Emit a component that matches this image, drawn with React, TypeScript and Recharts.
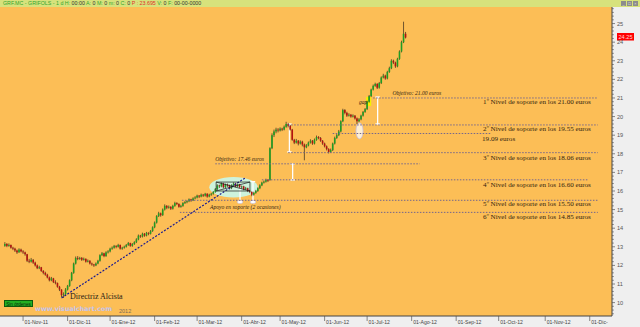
import { ComposedChart, Bar, XAxis, YAxis, CartesianGrid, ReferenceLine, ReferenceArea, ReferenceDot } from 'recharts'

// daily candles for GRIFOLS, one array per month: [open, high, low, close]
const oct11 = [
  [13.05, 13.25, 13.0, 13.15], [13.15, 13.2, 12.98, 13.05], [13.05, 13.18, 13.0, 13.1],
  [13.1, 13.12, 12.9, 12.95], [12.95, 13.0, 12.82, 12.9], [12.9, 12.95, 12.72, 12.8],
  [12.8, 12.85, 12.62, 12.7], [12.7, 12.92, 12.68, 12.85], [12.85, 12.9, 12.7, 12.75],
]
const nov11 = [
  [12.75, 12.82, 12.62, 12.7], [12.7, 12.74, 12.52, 12.6], [12.6, 12.62, 12.18, 12.25],
  [12.25, 12.35, 12.12, 12.2], [12.2, 12.4, 12.15, 12.3], [12.3, 12.34, 12.08, 12.15],
  [12.15, 12.2, 11.94, 12.0], [12.0, 12.05, 11.8, 11.85], [11.85, 11.98, 11.8, 11.9],
  [11.9, 11.92, 11.65, 11.7], [11.7, 11.75, 11.52, 11.6], [11.6, 11.66, 11.44, 11.5],
  [11.5, 11.55, 11.3, 11.35], [11.35, 11.4, 11.14, 11.2], [11.2, 11.38, 11.15, 11.3],
  [11.3, 11.33, 11.05, 11.1], [11.1, 11.2, 10.98, 11.05], [11.05, 11.08, 10.8, 10.85],
  [10.85, 10.9, 10.62, 10.7], [10.7, 10.72, 10.3, 10.4], [10.4, 10.55, 10.25, 10.45],
  [10.45, 10.78, 10.4, 10.7],
]
const dec11 = [
  [10.7, 10.95, 10.65, 10.9], [10.9, 11.25, 10.85, 11.2], [11.2, 11.65, 11.15, 11.6],
  [11.6, 12.15, 11.55, 12.1], [12.1, 12.48, 12.05, 12.4], [12.4, 12.5, 12.28, 12.35],
  [12.35, 12.46, 12.3, 12.4], [12.4, 12.45, 12.24, 12.3], [12.3, 12.42, 12.26, 12.35],
  [12.35, 12.38, 12.15, 12.2], [12.2, 12.32, 12.16, 12.25], [12.25, 12.28, 12.05, 12.1],
  [12.1, 12.15, 11.98, 12.05], [12.05, 12.08, 11.92, 12.0], [12.0, 12.16, 11.96, 12.1],
  [12.1, 12.3, 12.06, 12.25], [12.25, 12.6, 12.2, 12.55], [12.55, 12.72, 12.5, 12.65],
  [12.65, 12.68, 12.44, 12.5], [12.5, 12.76, 12.46, 12.7], [12.7, 12.82, 12.64, 12.75],
]
const jan12 = [
  [12.75, 12.95, 12.7, 12.9], [12.9, 13.02, 12.84, 12.95], [12.95, 13.1, 12.9, 13.05],
  [13.05, 13.08, 12.92, 13.0], [13.0, 13.16, 12.96, 13.1], [13.1, 13.12, 12.85, 12.9],
  [12.9, 13.0, 12.84, 12.95], [12.95, 13.06, 12.9, 13.0], [13.0, 13.15, 12.96, 13.1],
  [13.1, 13.26, 13.05, 13.2], [13.2, 13.22, 13.0, 13.05], [13.05, 13.2, 13.0, 13.15],
  [13.15, 13.3, 13.1, 13.25], [13.25, 13.46, 13.2, 13.4], [13.4, 13.66, 13.35, 13.6],
  [13.6, 13.64, 13.48, 13.55], [13.55, 13.76, 13.5, 13.7], [13.7, 13.74, 13.54, 13.6],
  [13.6, 13.8, 13.56, 13.75], [13.75, 13.78, 13.62, 13.7], [13.7, 13.9, 13.66, 13.85],
  [13.85, 14.1, 13.8, 14.05],
]
const feb12 = [
  [14.05, 14.36, 14.0, 14.3], [14.3, 14.7, 14.25, 14.65], [14.65, 14.88, 14.6, 14.8],
  [14.8, 14.84, 14.62, 14.7], [14.7, 15.06, 14.66, 15.0], [15.0, 15.28, 14.95, 15.2],
  [15.2, 15.24, 15.02, 15.1], [15.1, 15.22, 15.05, 15.15], [15.15, 15.18, 14.98, 15.05],
  [15.05, 15.26, 15.0, 15.2], [15.2, 15.42, 15.15, 15.35], [15.35, 15.4, 15.24, 15.3],
  [15.3, 15.34, 15.1, 15.15], [15.15, 15.26, 15.1, 15.2], [15.2, 15.4, 15.15, 15.35],
  [15.35, 15.46, 15.3, 15.4], [15.4, 15.5, 15.34, 15.45], [15.45, 15.6, 15.4, 15.55],
  [15.55, 15.58, 15.42, 15.5], [15.5, 15.66, 15.46, 15.6], [15.6, 15.72, 15.55, 15.65],
]
const mar12 = [
  [15.65, 15.8, 15.6, 15.75], [15.75, 15.78, 15.62, 15.7], [15.7, 15.86, 15.66, 15.8],
  [15.8, 15.84, 15.68, 15.75], [15.75, 15.9, 15.7, 15.85], [15.85, 15.88, 15.64, 15.7],
  [15.7, 15.85, 15.66, 15.8], [15.8, 15.9, 15.74, 15.85], [15.85, 16.0, 15.8, 15.95],
  [15.95, 16.16, 15.9, 16.1], [16.1, 16.36, 16.05, 16.3], [16.3, 16.34, 16.16, 16.25],
  [16.25, 16.46, 16.2, 16.4], [16.4, 16.44, 16.14, 16.2], [16.2, 16.4, 16.16, 16.35],
  [16.35, 16.4, 16.22, 16.3], [16.3, 16.34, 16.08, 16.15], [16.15, 16.36, 16.1, 16.3],
  [16.3, 16.46, 16.26, 16.4], [16.4, 16.44, 16.2, 16.25], [16.25, 16.4, 16.2, 16.35],
  [16.35, 16.38, 16.14, 16.2],
]
const apr12 = [
  [16.2, 16.3, 16.12, 16.25], [16.25, 16.28, 16.04, 16.1], [16.1, 16.22, 16.05, 16.15],
  [16.15, 16.18, 15.94, 16.0], [16.0, 16.06, 15.88, 15.95], [15.95, 15.98, 15.72, 15.8],
  [15.8, 15.96, 15.75, 15.9], [15.9, 16.06, 15.85, 16.0], [16.0, 16.2, 15.95, 16.15],
  [16.15, 16.36, 16.1, 16.3], [16.3, 16.5, 16.26, 16.45], [16.45, 16.56, 16.4, 16.5],
  [16.5, 16.66, 16.45, 16.6], [16.6, 16.64, 16.48, 16.55], [16.6, 18.35, 16.55, 18.3],
  [18.3, 19.1, 18.25, 19.0], [19.0, 19.3, 18.9, 19.2], [19.2, 19.4, 19.1, 19.3],
  [19.3, 19.38, 19.15, 19.25],
]
const may12 = [
  [19.25, 19.42, 19.2, 19.35], [19.35, 19.4, 19.22, 19.3], [19.3, 19.52, 19.26, 19.45],
  [19.45, 19.72, 19.4, 19.6], [19.6, 19.66, 19.42, 19.5], [19.5, 19.55, 19.25, 19.3],
  [19.3, 19.34, 18.7, 18.75], [18.75, 18.8, 18.52, 18.6], [18.6, 18.8, 18.55, 18.7],
  [18.7, 18.74, 18.45, 18.55], [18.55, 18.72, 18.5, 18.65], [18.65, 18.7, 18.4, 18.5],
  [18.5, 18.55, 17.65, 18.35], [18.35, 18.52, 18.3, 18.45], [18.45, 18.66, 18.4, 18.6],
  [18.6, 18.78, 18.55, 18.7], [18.7, 18.74, 18.48, 18.55], [18.55, 18.82, 18.5, 18.75],
  [18.75, 18.98, 18.7, 18.9], [18.9, 18.95, 18.78, 18.85], [18.85, 18.9, 18.64, 18.7],
  [18.7, 18.74, 18.48, 18.55],
]
const jun12 = [
  [18.55, 18.6, 18.34, 18.4], [18.4, 18.45, 18.18, 18.25], [18.25, 18.3, 18.02, 18.1],
  [18.1, 18.28, 18.05, 18.2], [18.2, 18.6, 18.15, 18.55], [18.55, 18.92, 18.5, 18.85],
  [18.85, 19.06, 18.8, 19.0], [19.0, 19.28, 18.95, 19.2], [19.2, 19.8, 19.15, 19.75],
  [19.75, 20.42, 19.7, 20.35], [20.35, 20.4, 20.12, 20.2], [20.2, 20.26, 19.98, 20.05],
  [20.05, 20.18, 20.0, 20.1], [20.1, 20.14, 19.94, 20.0], [20.0, 20.12, 19.95, 20.05],
  [20.05, 20.08, 19.84, 19.9], [19.9, 19.95, 19.6, 19.75], [19.75, 19.92, 19.7, 19.85],
  [19.85, 20.1, 19.8, 20.05], [20.05, 20.3, 20.0, 20.25], [20.25, 20.46, 20.2, 20.4],
]
const jul12 = [
  [20.4, 20.85, 20.35, 20.8], [20.8, 21.16, 20.75, 21.1], [21.1, 21.5, 21.05, 21.45],
  [21.45, 21.72, 21.4, 21.65], [21.65, 21.82, 21.6, 21.75], [21.75, 21.8, 21.48, 21.55],
  [21.55, 21.86, 21.5, 21.8], [21.8, 22.16, 21.75, 22.1], [22.1, 22.3, 22.05, 22.2],
  [22.2, 22.25, 21.98, 22.05], [22.05, 22.46, 22.0, 22.4], [22.4, 22.68, 22.35, 22.6],
  [22.6, 23.08, 22.55, 23.0], [23.0, 23.06, 22.82, 22.9], [22.9, 22.95, 22.62, 22.7],
  [22.7, 23.16, 22.65, 23.1], [23.1, 23.56, 23.05, 23.5], [23.5, 24.08, 23.45, 24.0],
  [24.0, 25.1, 23.95, 24.45], [24.45, 24.55, 24.2, 24.25],
]

// x axis: one slot per trading day, ticks on the first session of each month
const monthTickSlots = [9, 31, 52, 74, 95, 117, 136, 158, 179, 201, 223, 244, 267, 289]
const monthTickLabels = ['01-Nov-11', '01-Dic-11', '01-Ene-12', '01-Feb-12', '01-Mar-12', '01-Abr-12', '01-May-12',
  '01-Jun-12', '01-Jul-12', '01-Ago-12', '01-Sep-12', '01-Oct-12', '01-Nov-12', '01-Dic-']
const priceTicks = [10, 11, 12, 13, 14, 15, 16, 17, 18, 19, 20, 21, 22, 23, 24, 25]
const lastPrice = 24.25

// dotted support levels (slot range)
const supportLines = [
  { price: 21.0, from: 182, to: 293 },
  { price: 19.55, from: 140, to: 293 },
  { price: 19.09, from: 162, to: 240 },
  { price: 18.06, from: 140, to: 293 },
  { price: 17.46, from: 104, to: 205 },
  { price: 16.6, from: 127, to: 288 },
  { price: 15.5, from: 87.5, to: 293 },
  { price: 14.85, from: 86.5, to: 293 },
]

const levelTexts = [
  { slot: 236.3, price: 20.68, text: '1º Nivel de soporte en los 21.00 euros' },
  { slot: 236.3, price: 19.23, text: '2º Nivel de soporte en los 19.55 euros' },
  { slot: 235.8, price: 18.69, text: '19.09 euros' },
  { slot: 236.3, price: 17.67, text: '3º Nivel de soporte en los 18.06 euros' },
  { slot: 236.3, price: 16.22, text: '4º Nivel de soporte en los 16.60 euros' },
  { slot: 236.3, price: 15.17, text: '5º Nivel de soporte en los 15.50 euros' },
  { slot: 236.3, price: 14.49, text: '6º Nivel de soporte en los 14.85 euros' },
]

const smallNotes = [
  { slot: 191.5, price: 21.16, text: 'Objetivo: 21.00 euros' },
  { slot: 103.9, price: 17.61, text: 'Objetivo: 17.46 euros' },
  { slot: 101.4, price: 15.03, text: 'Apoyo en soporte (2 ocasiones)' },
  { slot: 175.0, price: 20.68, text: 'gap' },
]

const trendLine = { from: [28, 10.25], to: [118.7, 16.7] }

// white range markers between levels
const rangeMarkers = [
  { slot: 116.2, top: 16.27, bottom: 15.41, foot: true },
  { slot: 122.6, top: 16.5, bottom: 15.41, foot: true },
  { slot: 142.2, top: 17.45, bottom: 16.59, foot: false },
  { slot: 140.6, top: 19.6, bottom: 18.1, foot: false },
  { slot: 184.2, top: 21.05, bottom: 19.6, foot: false },
]

const candles = [oct11, nov11, dec11, jan12, feb12, mar12, apr12, may12, jun12, jul12]
  .flat()
  .map(([o, h, l, c], i) => ({ i, o, h, l, c, range: [l, h] }))

const ORANGE = '#fcbe56'
const LEVEL = '#75678c'
const INK = '#33240e'

function Candle(props: any) {
  const { x, y, width, height, payload } = props
  if (!payload || !Number.isFinite(y)) return null
  const { o, h, l, c } = payload
  const cx = x + width / 2
  const k = h > l ? height / (h - l) : 0
  const py = (v: number) => y + (h - v) * k
  const top = py(Math.max(o, c))
  const bodyH = Math.max(py(Math.min(o, c)) - top, 0.8)
  return (
    <g>
      <line x1={cx} x2={cx} y1={y} y2={y + height} stroke="#4a3a22" strokeWidth={0.8} />
      <rect x={cx - 0.8} y={top} width={1.6} height={bodyH} fill={c >= o ? '#1f9d24' : '#b3120e'} />
    </g>
  )
}

function PriceTick(props: any) {
  const { x, y, payload } = props
  const v = payload.value
  const major = priceTicks.includes(Math.round(v * 100) / 100)
  return (
    <g>
      <line x1={x} x2={x + (major ? 3 : 1.8)} y1={y} y2={y} stroke="#555" strokeWidth={0.7} />
      {major && (
        <text x={x + 5} y={y + 2} fontSize={5.6} fill="#555" fontFamily="Liberation Sans, Arial">{v}</text>
      )}
    </g>
  )
}

function MonthTick(props: any) {
  const { x, y, payload } = props
  const idx = monthTickSlots.indexOf(payload.value)
  return (
    <g>
      <line x1={x} x2={x} y1={y} y2={y + 5} stroke="#555" strokeWidth={0.7} />
      <text x={x + 1.5} y={y + 8.3} fontSize={5.1} fill="#444" fontFamily="Liberation Sans, Arial">
        {monthTickLabels[idx]}
      </text>
    </g>
  )
}

const PriceTag = (props: any) => {
  const vb = props.viewBox
  if (!vb) return null
  const x = vb.x + vb.width + 5
  return (
    <g>
      <rect x={x} y={vb.y - 4.5} width={17} height={7.5} fill="#ff0000" />
      <text x={x + 1.5} y={vb.y + 1.6} fontSize={5.6} fill="#ffd8d8" fontFamily="Liberation Sans, Arial">
        {lastPrice.toFixed(2)}
      </text>
    </g>
  )
}

export default function App() {
  const minorTicks: number[] = []
  for (let k = 0; k <= 82; k++) minorTicks.push(Math.round((9.4 + k * 0.2) * 100) / 100)

  return (
    <div style={{ position: 'relative', width: 640, height: 327, background: '#efefef', overflow: 'hidden' }}>
      <style>{'body{margin:0}'}</style>
      <ComposedChart width={640} height={327} data={candles} margin={{ top: 7, right: 0, bottom: 0, left: 0 }}>
        <CartesianGrid fill={ORANGE} stroke="none" horizontal={false} vertical={false} />
        <XAxis
          dataKey="i"
          type="number"
          domain={[-2.4, 300]}
          allowDataOverflow
          ticks={monthTickSlots}
          interval={0}
          height={11}
          tickSize={0}
          tickMargin={0}
          tickLine={false}
          axisLine={{ stroke: '#444' }}
          tick={<MonthTick />}
        />
        <YAxis
          orientation="right"
          type="number"
          domain={[9.28, 25.89]}
          allowDataOverflow
          ticks={minorTicks}
          interval={0}
          width={28}
          tickSize={0}
          tickMargin={0}
          tickLine={false}
          axisLine={{ stroke: '#444' }}
          tick={<PriceTick />}
        />

        <ReferenceArea
          x1={101}
          x2={125}
          y1={15.65}
          y2={16.75}
          shape={(p: any) => (
            <ellipse cx={p.x + p.width / 2} cy={p.y + p.height / 2} rx={p.width / 2} ry={p.height / 2} fill="#cdf3dc" />
          )}
        />
        <ReferenceArea x1={178.5} x2={181} y1={20.57} y2={21.05} fill="#f4f000" fillOpacity={1} stroke="none" />
        <ReferenceArea
          x1={173.5}
          x2={177}
          y1={18.8}
          y2={19.66}
          shape={(p: any) => (
            <ellipse cx={p.x + p.width / 2} cy={p.y + p.height / 2} rx={p.width / 2} ry={p.height / 2}
              fill="#ffffff" fillOpacity={0.75} stroke="#c4bde0" strokeWidth={0.8} />
          )}
        />

        {supportLines.map((s) => (
          <ReferenceLine
            key={s.price}
            segment={[{ x: s.from, y: s.price }, { x: s.to, y: s.price }]}
            stroke={LEVEL}
            strokeWidth={1}
            strokeDasharray="1.5 1.5"
          />
        ))}

        <Bar dataKey="range" barSize={2} shape={<Candle />} isAnimationActive={false} />

        <ReferenceLine
          segment={[{ x: trendLine.from[0], y: trendLine.from[1] }, { x: trendLine.to[0], y: trendLine.to[1] }]}
          stroke="#1b1b8f"
          strokeWidth={1.2}
          strokeDasharray="2 1.5"
        />

        {/* channel box inside the consolidation ellipse */}
        <ReferenceLine segment={[{ x: 104.4, y: 16.48 }, { x: 121.1, y: 16.48 }]} stroke="#1a1a1a" strokeWidth={0.7} />
        <ReferenceLine segment={[{ x: 104.4, y: 16.0 }, { x: 121.1, y: 16.0 }]} stroke="#1a1a1a" strokeWidth={0.7} />
        <ReferenceLine segment={[{ x: 104.4, y: 16.0 }, { x: 104.4, y: 16.48 }]} stroke="#1a1a1a" strokeWidth={0.7} />
        <ReferenceLine segment={[{ x: 121.1, y: 16.0 }, { x: 121.1, y: 16.48 }]} stroke="#1a1a1a" strokeWidth={0.7} />
        <ReferenceLine segment={[{ x: 104.4, y: 16.0 }, { x: 121.1, y: 16.48 }]} stroke="#1a1a1a" strokeWidth={0.7} />
        <ReferenceLine segment={[{ x: 104.4, y: 16.48 }, { x: 121.1, y: 16.0 }]} stroke="#1a1a1a" strokeWidth={0.7} />

        {rangeMarkers.map((m) => (
          <ReferenceArea
            key={m.slot}
            x1={m.slot - 1.1}
            x2={m.slot + 1.1}
            y1={m.bottom}
            y2={m.top}
            shape={(p: any) => {
              const cx = p.x + p.width / 2
              return (
                <g stroke="#ffffff" strokeWidth={1.3}>
                  <line x1={cx} x2={cx} y1={p.y} y2={p.y + p.height} />
                  <line x1={p.x} x2={p.x + p.width} y1={p.y} y2={p.y} />
                  <line x1={p.x} x2={p.x + p.width} y1={p.y + p.height} y2={p.y + p.height} />
                  {m.foot && (
                    <ellipse cx={cx} cy={p.y + p.height} rx={2.8} ry={1.6} fill="#ffffff" stroke="#c4bde0" strokeWidth={0.6} />
                  )}
                </g>
              )
            }}
          />
        ))}

        {levelTexts.map((t) => (
          <ReferenceDot
            key={t.text}
            x={t.slot}
            y={t.price}
            r={1}
            shape={(p: any) => (
              <text x={p.cx} y={p.cy} fontSize={7.1} fill={INK} fontFamily="Liberation Serif, serif">{t.text}</text>
            )}
          />
        ))}
        {smallNotes.map((t) => (
          <ReferenceDot
            key={t.text}
            x={t.slot}
            y={t.price}
            r={1}
            shape={(p: any) => (
              <text x={p.cx} y={p.cy} fontSize={5.6} fontStyle="italic" fill={INK} fontFamily="Liberation Serif, serif">
                {t.text}
              </text>
            )}
          />
        ))}
        <ReferenceDot
          x={32.2}
          y={10.19}
          r={1}
          shape={(p: any) => (
            <text x={p.cx} y={p.cy} fontSize={8} fill="#1e1a14" fontFamily="Liberation Serif, serif">Directriz Alcista</text>
          )}
        />

        <ReferenceLine y={lastPrice} stroke="none" ifOverflow="visible" label={<PriceTag />} />
      </ComposedChart>

      {/* header strip */}
      <div
        style={{
          position: 'absolute', left: 0, top: 0, width: 640, height: 7, background: '#d7e27c',
          fontFamily: 'Liberation Sans, Arial', fontSize: 5.3, lineHeight: '7px', whiteSpace: 'nowrap', paddingLeft: 3,
          boxSizing: 'border-box', color: '#2fa52f',
        }}
      >
        GRF.MC - GRIFOLS - 1 d H: <span style={{ color: '#333' }}>00:00</span> A: <span style={{ color: '#333' }}>0</span> M:{' '}
        <span style={{ color: '#333' }}>0</span> m: <span style={{ color: '#333' }}>0</span> C:{' '}
        <span style={{ color: '#333' }}>0</span> <span style={{ color: '#e0302a' }}>P : 23.695</span> V:{' '}
        <span style={{ color: '#333' }}>0</span> F: <span style={{ color: '#333' }}>00-00-0000</span>
      </div>
      <div style={{ position: 'absolute', top: 1, left: 621, display: 'flex', gap: 1 }}>
        {['_', '□', '×'].map((s) => (
          <div key={s} style={{ width: 5, height: 5, background: '#8c8c8c', color: '#fff', fontSize: 4, lineHeight: '5px', textAlign: 'center' }}>{s}</div>
        ))}
      </div>

      <div
        style={{
          position: 'absolute', left: 4, top: 300, width: 29, height: 7, background: '#22b022', border: '0.5px solid #0d5a0d',
          fontFamily: 'Liberation Sans, Arial', fontSize: 4.6, lineHeight: '7px', textAlign: 'center', color: '#0a2a0a',
          boxSizing: 'border-box',
        }}
      >
        Sin órdenes
      </div>
      <div
        style={{
          position: 'absolute', left: 35, top: 305, fontFamily: 'DejaVu Sans, sans-serif', fontWeight: 'bold', fontSize: 6.4,
          color: '#c4c4ee', whiteSpace: 'nowrap', lineHeight: '8px',
        }}
      >
        www.visualchart.com
      </div>
      <div style={{ position: 'absolute', left: 119, top: 308, fontFamily: 'Liberation Sans, Arial', fontSize: 5.5, color: '#7a6a5a', lineHeight: '7px' }}>
        2012
      </div>
    </div>
  )
}
